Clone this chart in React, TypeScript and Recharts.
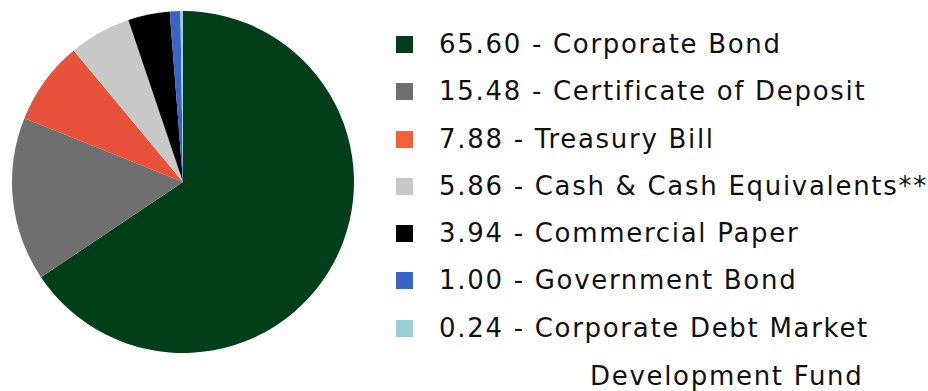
import { PieChart, Pie, Cell } from "recharts"

const names = [
    "Corporate Bond",
    "Certificate of Deposit",
    "Treasury Bill",
    "Cash & Cash Equivalents**",
    "Commercial Paper",
    "Government Bond",
    "Corporate Debt Market\nDevelopment Fund",
]
const values = [65.6, 15.48, 7.88, 5.86, 3.94, 1.0, 0.24]
const sliceColors = ["#003f1a", "#6f6f6f", "#e8523a", "#c8c8c8", "#000000", "#3b63c4", "#9ccfd0"]
const keyColors = ["#003f1a", "#6f6f6f", "#f2623a", "#c8c8c8", "#000000", "#3b63c4", "#9ccfd0"]

const data = names.map((name, i) => ({ name, value: values[i] }))

function HoldingsLegend() {
    return (
        <div
            style={{
                position: "absolute",
                left: 396,
                top: 20,
                fontFamily: "'DejaVu Sans', sans-serif",
                fontSize: 26,
                letterSpacing: 1.7,
                color: "#111",
            }}
        >
            {data.map((d, i) => {
                const lines = d.name.split("\n")
                return (
                    <div key={d.name} style={{ position: "relative", height: 47.3 }}>
                        <span
                            style={{
                                position: "absolute",
                                left: 0,
                                top: 16,
                                width: 17,
                                height: 17,
                                background: keyColors[i],
                            }}
                        />
                        <div style={{ position: "absolute", left: 43, top: 0, whiteSpace: "nowrap", lineHeight: "48px" }}>
                            {`${d.value.toFixed(2)} - ${lines[0]}`}
                            {lines.slice(1).map((l) => (
                                <div key={l} style={{ paddingLeft: 151 }}>{l}</div>
                            ))}
                        </div>
                    </div>
                )
            })}
        </div>
    )
}

export default function App() {
    return (
        <div style={{ position: "absolute", left: 0, top: 0, width: 928, height: 391, background: "#fff" }}>
            <PieChart width={928} height={391} margin={{ top: 0, right: 0, bottom: 0, left: 0 }}>
                <Pie
                    data={data}
                    dataKey="value"
                    nameKey="name"
                    cx={183}
                    cy={182}
                    outerRadius={171}
                    startAngle={90}
                    endAngle={-270}
                    stroke="none"
                    isAnimationActive={false}
                >
                    {data.map((d, i) => (
                        <Cell key={d.name} fill={sliceColors[i]} />
                    ))}
                </Pie>
            </PieChart>
            <HoldingsLegend />
        </div>
    )
}
